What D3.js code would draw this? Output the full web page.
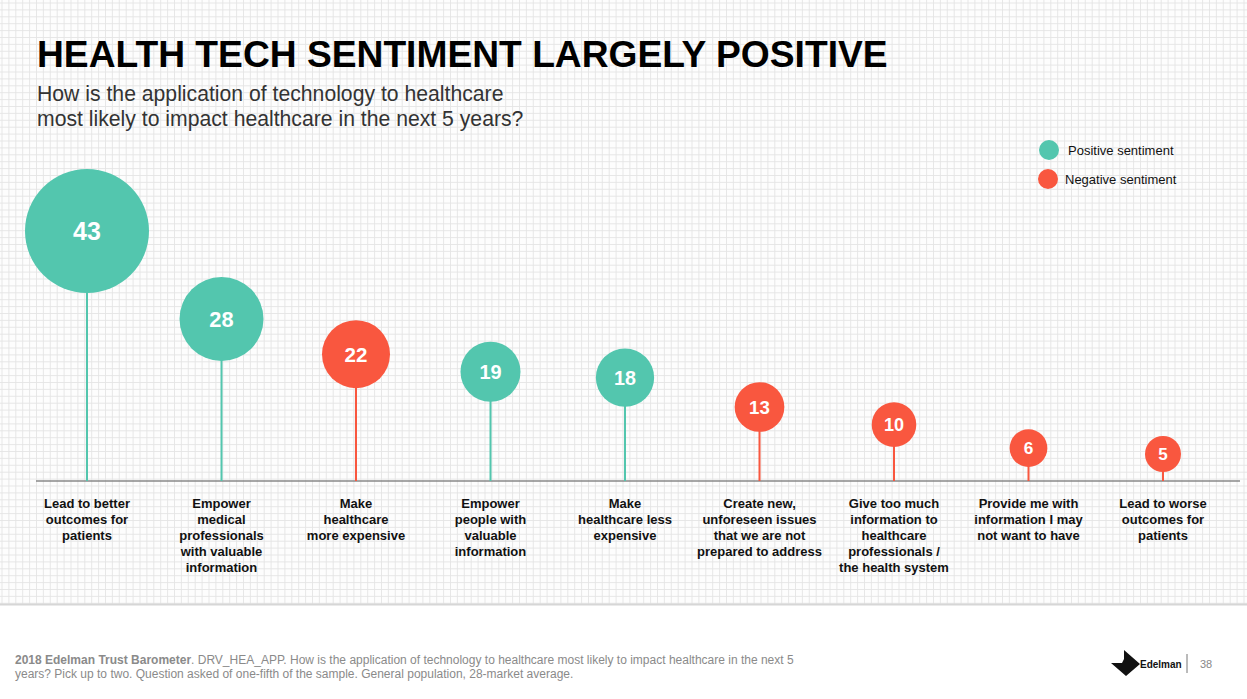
<!DOCTYPE html>
<html><head><meta charset="utf-8">
<script src="https://cdn.jsdelivr.net/npm/d3@7"></script>
<style>body{margin:0;background:#fff;}svg{display:block;font-family:"Liberation Sans",Arial,Helvetica,sans-serif;}</style>
</head><body>
<svg id="chart" width="1247" height="699"></svg>
<script>
const categories = [
  ["Lead to better","outcomes for","patients"],
  ["Empower","medical","professionals","with valuable","information"],
  ["Make","healthcare","more expensive"],
  ["Empower","people with","valuable","information"],
  ["Make","healthcare less","expensive"],
  ["Create new,","unforeseen issues","that we are not","prepared to address"],
  ["Give too much","information to","healthcare","professionals /","the health system"],
  ["Provide me with","information I may","not want to have"],
  ["Lead to worse","outcomes for","patients"]
];
const values = [43, 28, 22, 19, 18, 13, 10, 6, 5];
const sentiment = ["pos","pos","neg","pos","pos","neg","neg","neg","neg"];
const legendLabels = ["Positive sentiment","Negative sentiment"];

const colors = {pos:"#53c6ae", neg:"#f9573f"};
const svg = d3.select("#chart");
const W = 1247, H = 699;

// grid background
const gridH = 604;
const g0 = svg.append("g");
g0.append("rect").attr("x",0).attr("y",0).attr("width",W).attr("height",gridH).attr("fill","#fdfdfd");
const step = 6.9;
for (let x = 2; x < W; x += step) g0.append("line").attr("x1",x).attr("x2",x).attr("y1",0).attr("y2",gridH).attr("stroke","#e4e4e4").attr("stroke-width",0.9);
for (let y = 3; y < gridH; y += step) g0.append("line").attr("x1",0).attr("x2",W).attr("y1",y).attr("y2",y).attr("stroke","#e4e4e4").attr("stroke-width",0.9);
g0.append("line").attr("x1",0).attr("x2",W).attr("y1",gridH+0.5).attr("y2",gridH+0.5).attr("stroke","#d6d6d6").attr("stroke-width",2);

// title
svg.append("text").attr("x",37).attr("y",67).attr("font-size",37.2).attr("font-weight","bold").attr("fill","#000").text("HEALTH TECH SENTIMENT LARGELY POSITIVE");
svg.append("text").attr("x",37).attr("y",101).attr("font-size",21.2).attr("fill","#333").text("How is the application of technology to healthcare");
svg.append("text").attr("x",37).attr("y",126).attr("font-size",21.2).attr("fill","#333").text("most likely to impact healthcare in the next 5 years?");

// scales
const baseY = 481;
const x = d3.scalePoint().domain(d3.range(values.length)).range([87, 1163]);
const y = d3.scaleLinear().domain([5, 13, 43]).range([454, 407, 231]);
const r = d3.scaleLinear().domain([5, 19, 43]).range([18, 30, 62]);
const fs = d3.scaleLinear().domain([5, 43]).range([17, 25]);

// baseline
svg.append("line").attr("x1",36).attr("x2",1240).attr("y1",baseY).attr("y2",baseY).attr("stroke","#888").attr("stroke-width",1.5);

const items = values.map((v,i)=>({v,i,s:sentiment[i],lab:categories[i]}));
const gg = svg.append("g").selectAll("g").data(items).join("g");
gg.append("line").attr("x1",d=>x(d.i)).attr("x2",d=>x(d.i)).attr("y1",d=>y(d.v)).attr("y2",baseY)
  .attr("stroke",d=>colors[d.s]).attr("stroke-width",2);
gg.append("circle").attr("cx",d=>x(d.i)).attr("cy",d=>y(d.v)).attr("r",d=>r(d.v)).attr("fill",d=>colors[d.s]);
gg.append("text").attr("x",d=>x(d.i)).attr("y",d=>y(d.v)).attr("dy","0.36em").attr("text-anchor","middle")
  .attr("font-size",d=>fs(d.v)).attr("font-weight","bold").attr("fill","#fff").text(d=>d.v);
gg.each(function(d){
  const t = d3.select(this).append("text").attr("text-anchor","middle").attr("font-size",13).attr("font-weight","bold").attr("fill","#111");
  d.lab.forEach((l,k)=>t.append("tspan").attr("x",x(d.i)).attr("y",508+k*16).text(l));
});

// legend
const lg = svg.append("g");
legendLabels.forEach((l,k)=>{
  lg.append("circle").attr("cx",1049-k).attr("cy",150+k*29).attr("r",10).attr("fill",k===0?colors.pos:colors.neg);
  lg.append("text").attr("x",1068-k*3).attr("y",155+k*29).attr("font-size",13).attr("fill","#111").text(l);
});

// footer
const ft = svg.append("text").attr("x",15).attr("y",664).attr("font-size",12).attr("fill","#8a8a8a");
ft.append("tspan").attr("font-weight","bold").text("2018 Edelman Trust Barometer");
ft.append("tspan").text(". DRV_HEA_APP. How is the application of technology to healthcare most likely to impact healthcare in the next 5");
svg.append("text").attr("x",15).attr("y",678).attr("font-size",12).attr("fill","#8a8a8a").text("years? Pick up to two. Question asked of one-fifth of the sample. General population, 28-market average.");

// logo
svg.append("path").attr("d","M1124,650 L1140,664 L1126,676 L1111,663 L1122,663 L1124,659 Z").attr("fill","#111");
svg.append("text").attr("x",1140).attr("y",668).attr("font-size",10).attr("font-weight","bold").attr("fill","#111").text("Edelman");
svg.append("line").attr("x1",1187).attr("x2",1187).attr("y1",654).attr("y2",673).attr("stroke","#777").attr("stroke-width",1);
svg.append("text").attr("x",1200).attr("y",668).attr("font-size",11).attr("fill","#888").text("38");
</script>
</body></html>
